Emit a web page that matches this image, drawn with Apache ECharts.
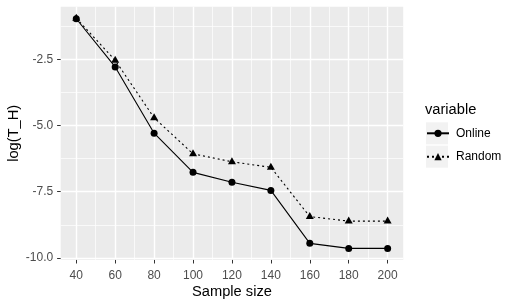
<!DOCTYPE html>
<html>
<head>
<meta charset="utf-8">
<script src="https://cdn.jsdelivr.net/npm/echarts@6/dist/echarts.min.js"></script>
<style>
  html, body { margin: 0; padding: 0; background: #fff; }
  #chart { width: 518px; height: 306px; }
</style>
</head>
<body>
<div id="chart"></div>
<script>
// ---- data ----
var sampleSizes = [40, 60, 80, 100, 120, 140, 160, 180, 200];
var online = [-0.97, -2.79, -5.29, -6.77, -7.14, -7.45, -9.45, -9.64, -9.64];
var random = [-0.95, -2.54, -4.71, -6.07, -6.37, -6.58, -8.44, -8.61, -8.61];
var xTicks = [40, 60, 80, 100, 120, 140, 160, 180, 200];
var xMinorTicks = [50, 70, 90, 110, 130, 150, 170, 190];
var yTicks = [-10, -7.5, -5, -2.5];
var yMinorTicks = [-8.75, -6.25, -3.75, -1.25];
var seriesNames = ['Online', 'Random'];
var legendTitle = 'variable';
var xTitle = 'Sample size';
var yTitle = 'log(T_H)';

// ggplot-like 5% expansion
function expand(vals) {
  var mn = Math.min.apply(null, vals), mx = Math.max.apply(null, vals);
  var r = mx - mn;
  return [mn - 0.05 * r, mx + 0.05 * r];
}
var xr = expand(sampleSizes);
var yr = expand(online.concat(random));

function pairs(ys) { return sampleSizes.map(function (x, i) { return [x, ys[i]]; }); }

var FONT = '"Liberation Sans", Arial, sans-serif';
var chart = echarts.init(document.getElementById('chart'), null, { renderer: 'canvas' });

var option = {
  animation: false,
  backgroundColor: '#ffffff',
  grid: {
    left: 60.7, right: 114.8, top: 6.7, bottom: 46.1,
    outerBoundsMode: 'none', containLabel: false,
    show: true, backgroundColor: '#EBEBEB', borderWidth: 0
  },
  title: {
    text: legendTitle, left: 425, top: 102, padding: 0,
    textStyle: { fontFamily: FONT, fontSize: 14.67, fontWeight: 'normal', color: '#000' }
  },
  graphic: [
    { type: 'rect', left: 426, top: 122.3, shape: { width: 22, height: 22 }, style: { fill: '#F2F2F2' }, z: 0 },
    { type: 'rect', left: 426, top: 145.7, shape: { width: 22, height: 22 }, style: { fill: '#F2F2F2' }, z: 0 }
  ],
  legend: {
    orient: 'vertical', left: 426, top: 122.3,
    itemWidth: 22, itemHeight: 9, itemGap: 1.4,
    padding: 0,
    data: seriesNames,
    textStyle: { fontFamily: FONT, fontSize: 12, color: '#000', lineHeight: 22, padding: [0, 0, 0, 2] }
  },
  xAxis: [
    {
      type: 'value', min: xr[0], max: xr[1], gridIndex: 0,
      name: xTitle, nameLocation: 'middle', nameGap: 24.5, nameMoveOverlap: false,
      nameTextStyle: { fontFamily: FONT, fontSize: 14.67, color: '#000' },
      axisLine: { show: false },
      axisTick: { show: true, length: 3.6, lineStyle: { color: '#333333', width: 1 }, customValues: xTicks },
      axisLabel: { customValues: xTicks, margin: 9.5, fontFamily: FONT, fontSize: 12, color: '#4D4D4D' },
      splitLine: { show: true, lineStyle: { color: '#ffffff', width: 1.4 } }
    },
    {
      type: 'value', min: xr[0], max: xr[1], gridIndex: 0, position: 'bottom',
      axisLine: { show: false },
      axisTick: { show: false, customValues: xMinorTicks },
      axisLabel: { show: false, customValues: xMinorTicks },
      splitLine: { show: true, lineStyle: { color: '#ffffff', width: 0.7 } }
    }
  ],
  yAxis: [
    {
      type: 'value', min: yr[0], max: yr[1], gridIndex: 0,
      name: yTitle, nameLocation: 'middle', nameGap: 39, nameRotate: 90, nameMoveOverlap: false,
      nameTextStyle: { fontFamily: FONT, fontSize: 14.67, color: '#000' },
      axisLine: { show: false },
      axisTick: { show: true, length: 3.6, lineStyle: { color: '#333333', width: 1 }, customValues: yTicks },
      axisLabel: {
        customValues: yTicks, margin: 7.5, fontFamily: FONT, fontSize: 12, color: '#4D4D4D',
        formatter: function (v) { return Number(v).toFixed(1); }
      },
      splitLine: { show: true, lineStyle: { color: '#ffffff', width: 1.4 } }
    },
    {
      type: 'value', min: yr[0], max: yr[1], gridIndex: 0, position: 'left',
      axisLine: { show: false },
      axisTick: { show: false, customValues: yMinorTicks },
      axisLabel: { show: false, customValues: yMinorTicks },
      splitLine: { show: true, lineStyle: { color: '#ffffff', width: 0.7 } }
    }
  ],
  series: [
    {
      name: seriesNames[0], type: 'line', xAxisIndex: 0, yAxisIndex: 0,
      data: pairs(online),
      symbol: 'circle', symbolSize: 7, showAllSymbol: true,
      itemStyle: { color: '#000' },
      lineStyle: { color: '#000', width: 1.1, type: 'solid' }
    },
    {
      name: seriesNames[1], type: 'line', xAxisIndex: 0, yAxisIndex: 0,
      data: pairs(random),
      symbol: 'triangle', symbolSize: [8, 7], symbolOffset: [0, -1], showAllSymbol: true,
      itemStyle: { color: '#000' },
      lineStyle: { color: '#000', width: 1.1, type: [2, 3] }
    }
  ]
};
chart.setOption(option);
</script>
</body>
</html>
